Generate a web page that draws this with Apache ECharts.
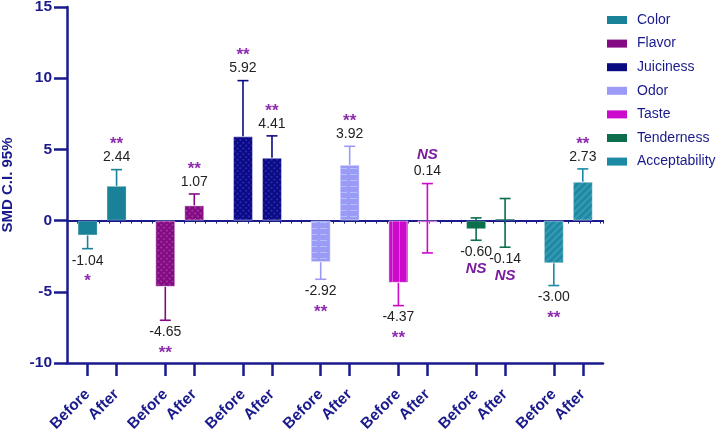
<!DOCTYPE html>
<html><head><meta charset="utf-8">
<script src="https://cdn.jsdelivr.net/npm/echarts@6/dist/echarts.min.js"></script>
<style>html,body{margin:0;padding:0;background:#fff}#c{width:722px;height:436px}</style>
</head><body><div id="c"></div>
<script>
// ---- data ----
const attributes = ['Color','Flavor','Juiciness','Odor','Taste','Tenderness','Acceptability'];
const phaseLabels = ['Before','After'];
const beforeValues = [-1.04,-4.65,5.92,-2.92,-4.37,-0.60,-3.00];
const afterValues  = [2.44,1.07,4.41,3.92,-0.14,0.14,2.73];
const beforeLabels = ['-1.04','-4.65','5.92','-2.92','-4.37','-0.60','-3.00'];
const afterLabels  = ['2.44','1.07','4.41','3.92','0.14','-0.14','2.73'];
const beforeCILow  = [-1.97,-7.00,5.92,-4.12,-5.97,-1.38,-4.56];
const beforeCIHigh = [-1.04,-4.65,9.83,-2.92,-4.37,0.19,-3.00];
const afterCILow   = [2.44,1.07,4.41,3.92,-2.27,-1.87,2.73];
const afterCIHigh  = [3.58,1.87,5.95,5.22,2.60,1.55,3.63];
const beforeSig = ['*','**','**','**','**','NS','**'];
const afterSig  = ['**','**','**','**','NS','NS','**'];
const yTicks = [-10,-5,0,5,10,15];

// ---- style ----
const FONT = '"Liberation Sans", Arial, sans-serif';
const NAVY = '#1a1a8c';
const SIG = '#8e2cae';
const colors = ['#1a8298','#840a84','#0a0a82','#9b9bf7','#cc0acc','#0b6e4c','#1c8aa4'];
const decals = [
  null,
  {symbol:'rect', symbolSize:1, dashArrayX:[2,2], dashArrayY:[2,2], rotation:Math.PI/4, color:'rgba(255,255,255,0.16)'},
  {symbol:'rect', symbolSize:1, dashArrayX:[2,2], dashArrayY:[2,2], rotation:Math.PI/4, color:'rgba(70,70,230,0.45)'},
  {symbol:'rect', symbolSize:1, dashArrayX:[7,3], dashArrayY:[1,5], color:'rgba(190,225,255,0.55)'},
  {symbol:'rect', symbolSize:1, dashArrayX:[1,6], dashArrayY:[10,0], color:'rgba(255,255,255,0.3)'},
  null,
  {symbol:'rect', symbolSize:1, dashArrayX:[1,0], dashArrayY:[2,3], rotation:-Math.PI/4, color:'rgba(255,255,255,0.13)'}
];
const AFTER = 0.373;      // offset of the After bar inside a group
const X_MIN = -0.265, X_MAX = 6.633;
const xPos = (i, ph) => i + (ph ? AFTER : 0);

const tickValues = [];
attributes.forEach((a, i) => { tickValues.push(xPos(i,0), xPos(i,1)); });

const barSeries = attributes.map((name, i) => ({
  type: 'bar', name, xAxisIndex: 0, yAxisIndex: 0,
  barWidth: 20, barGap: '-100%',
  data: [[xPos(i,0), beforeValues[i]], [xPos(i,1), afterValues[i]]],
  itemStyle: Object.assign({color: colors[i], borderColor: 'rgba(255,255,255,0.25)', borderWidth: 1},
                           decals[i] ? {decal: decals[i]} : {}),
  z: 2
}));

const errData = [];
attributes.forEach((a, i) => {
  errData.push([xPos(i,0), beforeCILow[i], beforeCIHigh[i], i, 0]);
  errData.push([xPos(i,1), afterCILow[i], afterCIHigh[i], i, 1]);
});

const errSeries = {
  type: 'custom', name: 'ci', xAxisIndex: 0, yAxisIndex: 0, z: 5, silent: true,
  data: errData,
  renderItem: function (params, api) {
    const x = api.value(0), lo = api.value(1), hi = api.value(2), i = api.value(3), ph = api.value(4);
    const val = ph ? afterValues[i] : beforeValues[i];
    const lbl = ph ? afterLabels[i] : beforeLabels[i];
    const sig = ph ? afterSig[i] : beforeSig[i];
    const pLo = api.coord([x, lo]), pHi = api.coord([x, hi]);
    const c = colors[i];
    const cap = 5.5;
    const ls = {stroke: c, lineWidth: 1.6};
    const ch = [{type:'line', shape:{x1:pLo[0], y1:pLo[1], x2:pHi[0], y2:pHi[1]}, style: ls}];
    if (Math.abs(lo - val) > 1e-6) ch.push({type:'line', shape:{x1:pLo[0]-cap, y1:pLo[1], x2:pLo[0]+cap, y2:pLo[1]}, style: ls});
    if (Math.abs(hi - val) > 1e-6) ch.push({type:'line', shape:{x1:pHi[0]-cap, y1:pHi[1], x2:pHi[0]+cap, y2:pHi[1]}, style: ls});
    const up = lbl.charAt(0) !== '-';
    const endY = up ? pHi[1] : pLo[1];
    const dir = up ? -1 : 1;
    ch.push({type:'text', x: pLo[0], y: endY + dir*12,
      style:{text: lbl, fill:'#222', fontSize:14, fontFamily: FONT, align:'center', verticalAlign:'middle'}});
    if (sig.charAt(0) === '*') {
      ch.push({type:'text', x: pLo[0], y: endY + dir*29 + 4,
        style:{text: sig, fill: SIG, fontSize:17, fontWeight:'bold', fontFamily: FONT, align:'center', verticalAlign:'middle'}});
    } else {
      ch.push({type:'text', x: pLo[0], y: endY + dir*29,
        style:{text: sig, fill: '#7a1c9e', fontSize:15, fontWeight:'bold', fontStyle:'italic', fontFamily: FONT, align:'center', verticalAlign:'middle'}});
    }
    return {type:'group', children: ch};
  }
};

const chart = echarts.init(document.getElementById('c'), null, {renderer:'canvas'});
chart.setOption({
  animation: false,
  backgroundColor: '#fff',
  grid: {left: 67, right: 119, top: 7, bottom: 73, containLabel: false, outerBoundsMode: 'none'},
  legend: {
    data: attributes, orient: 'vertical', left: 607, top: 12, padding: 0,
    itemWidth: 20, itemHeight: 8, itemGap: 7.6, icon: 'rect', selectedMode: false,
    itemStyle: {borderWidth: 0, decal: {symbol:'rect', symbolSize:0, color:'rgba(0,0,0,0)'}},
    textStyle: {color: NAVY, fontSize: 14, fontFamily: FONT, lineHeight: 16, padding: [0,0,0,5]}
  },
  xAxis: [
    {
      type: 'value', position: 'bottom', min: X_MIN, max: X_MAX,
      axisLine: {onZero: false, lineStyle: {color: NAVY, width: 2.5}},
      axisTick: {show: true, customValues: tickValues, length: 13, lineStyle: {color: NAVY, width: 2.5}},
      axisLabel: {
        customValues: tickValues, rotate: 45, margin: 29, color: NAVY, fontSize: 15.5, fontWeight: 'bold', fontFamily: FONT,
        formatter: v => phaseLabels[Math.abs(v - Math.round(v)) < 0.01 ? 0 : 1]
      },
      splitLine: {show: false}
    },
    {
      type: 'value', position: 'bottom', min: X_MIN, max: X_MAX, interval: 0.1373,
      axisLine: {onZero: true, lineStyle: {color: NAVY, width: 2}},
      axisTick: {show: true, length: 3, lineStyle: {color: NAVY, width: 1}},
      axisLabel: {show: false},
      splitLine: {show: false}
    }
  ],
  yAxis: {
    type: 'value', min: yTicks[0], max: yTicks[yTicks.length-1], interval: 5,
    name: 'SMD C.I. 95%', nameLocation: 'middle', nameGap: 46, nameMoveOverlap: false,
    nameTextStyle: {color: NAVY, fontSize: 15, fontWeight: 'bold', fontFamily: FONT, padding: [0,0,6,0]},
    axisLine: {show: true, onZero: false, lineStyle: {color: NAVY, width: 2.5}},
    axisTick: {show: true, length: 13, lineStyle: {color: NAVY, width: 2.5}},
    axisLabel: {margin: 15, color: NAVY, fontSize: 15.5, fontWeight: 'bold', fontFamily: FONT},
    splitLine: {show: false}
  },
  series: barSeries.concat([errSeries])
});
</script>
</body></html>
